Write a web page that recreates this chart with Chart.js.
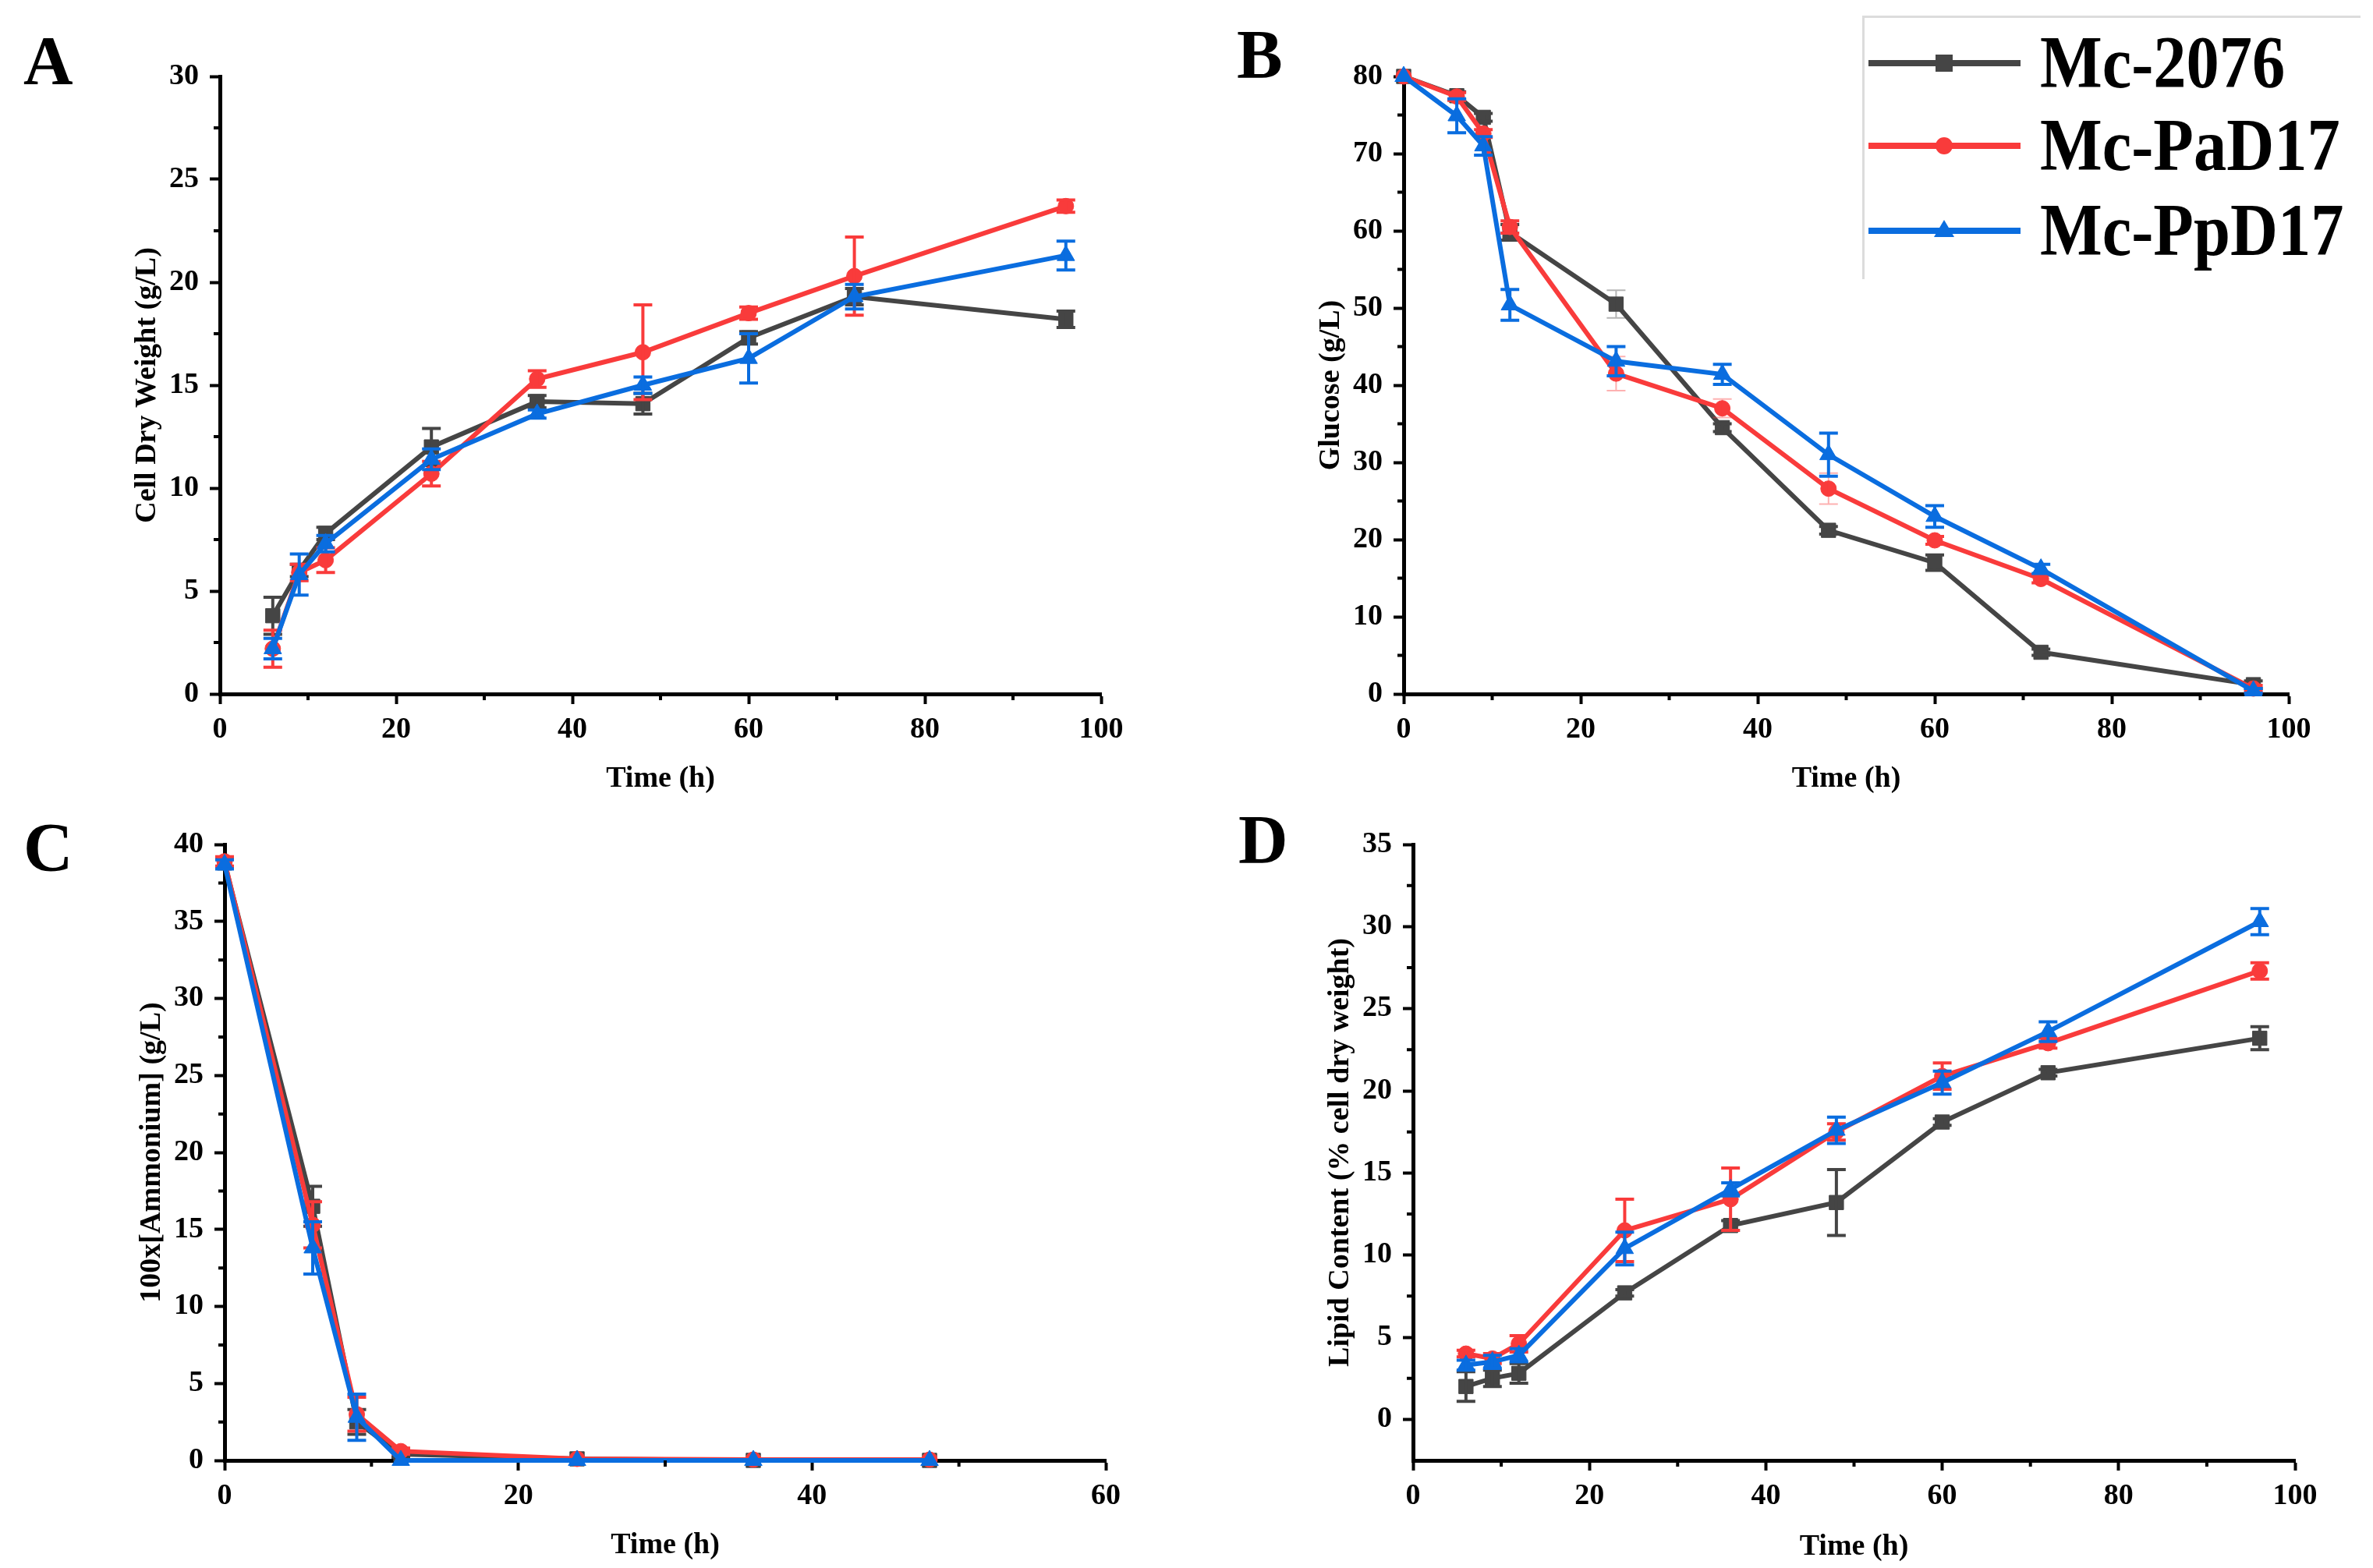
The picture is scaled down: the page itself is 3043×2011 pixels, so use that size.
<!DOCTYPE html>
<html>
<head>
<meta charset="utf-8">
<script src="https://cdn.jsdelivr.net/npm/chart.js@4.4.0/dist/chart.umd.min.js"></script>
<style>
html, body { margin: 0; padding: 0; background: #fff; }
body { width: 3043px; height: 2011px; position: relative; overflow: hidden; font-family: "Liberation Serif", "Times New Roman", serif; }
canvas { position: absolute; }
.letter { position: absolute; font-weight: bold; font-size: 88px; line-height: 1; color: #000; }
#legend { position: absolute; left: 2388px; top: 20px; width: 636px; height: 335px; border-top: 3px solid #dcdcdc; border-left: 3px solid #dcdcdc; }
.legText { position: absolute; left: 2616px; font-weight: bold; font-size: 96px; line-height: 1; color: #000; transform: scaleX(0.88); transform-origin: left center; white-space: nowrap; }
.legLine { position: absolute; left: 2396px; }
</style>
</head>
<body>
<canvas id="chartA" width="1521" height="1030" style="left:0px;top:0px"></canvas>
<canvas id="chartB" width="1522" height="1030" style="left:1521px;top:0px"></canvas>
<canvas id="chartC" width="1521" height="981" style="left:0px;top:1030px"></canvas>
<canvas id="chartD" width="1522" height="981" style="left:1521px;top:1030px"></canvas>

<div class="letter" style="left:30px;top:34px">A</div>
<div class="letter" style="left:1586px;top:26px">B</div>
<div class="letter" style="left:30px;top:1043px">C</div>
<div class="letter" style="left:1588px;top:1033px">D</div>

<div id="legend"></div>
<svg class="legLine" style="top:61px" width="200" height="40"><line x1="0" y1="20" x2="195" y2="20" stroke="#454545" stroke-width="8"/><rect x="86" y="9" width="22" height="22" fill="#454545"/></svg>
<svg class="legLine" style="top:167px" width="200" height="40"><line x1="0" y1="20" x2="195" y2="20" stroke="#f93b3b" stroke-width="8"/><circle cx="97" cy="20" r="11" fill="#f93b3b"/></svg>
<svg class="legLine" style="top:276px" width="200" height="40"><line x1="0" y1="20" x2="195" y2="20" stroke="#0a6ddf" stroke-width="8"/><polygon points="97,6 110,28 84,28" fill="#0a6ddf"/></svg>
<div class="legText" style="top:32px">Mc-2076</div>
<div class="legText" style="top:138px">Mc-PaD17</div>
<div class="legText" style="top:247px">Mc-PpD17</div>

<script>
// Время отбора проб, ч
const timeA = [6, 9, 12, 24, 36, 48, 60, 72, 96];
const timeB = [0, 6, 9, 12, 24, 36, 48, 60, 72, 96];
const timeC = [0, 6, 9, 12, 24, 36, 48];
const timeD = [6, 9, 12, 24, 36, 48, 60, 72, 96];

const seriesNames = ['Mc-2076', 'Mc-PaD17', 'Mc-PpD17'];
const seriesColors = ['#454545', '#f93b3b', '#0a6ddf'];
const seriesMarkers = ['rect', 'circle', 'triangle'];

// A: Cell Dry Weight
const cdw2076 = [3.8, 6.0, 7.8, 12.0, 14.2, 14.1, 17.3, 19.3, 18.2];
const cdw2076Err = [0.9, 0.3, 0.3, 0.9, 0.3, 0.5, 0.3, 0.4, 0.4];
const cdwPaD17 = [2.2, 5.9, 6.5, 10.7, 15.3, 16.6, 18.5, 20.3, 23.7];
const cdwPaD17Err = [0.9, 0.4, 0.6, 0.6, 0.4, 2.3, 0.3, 1.9, 0.3];
const cdwPpD17 = [2.2, 5.8, 7.3, 11.4, 13.6, 15.0, 16.3, 19.3, 21.3];
const cdwPpD17Err = [0.5, 1.0, 0.4, 0.5, 0.2, 0.4, 1.2, 0.6, 0.7];

// B: Glucose
const glc2076 = [80, 77.5, 74.7, 59.8, 50.5, 34.5, 21.2, 17.0, 5.4, 1.2];
const glc2076Err = [0, 0.5, 0.5, 1.0, 1.8, 0.5, 0.5, 1.0, 0.4, 0.5];
const glcPaD17 = [80, 77.4, 72.6, 60.5, 41.5, 37.0, 26.6, 19.9, 14.9, 0.7];
const glcPaD17Err = [0, 0.5, 0.5, 0.8, 2.2, 1.2, 2.0, 0.5, 0.5, 0.4];
const glcPpD17 = [80, 74.9, 71.0, 50.4, 43.1, 41.4, 31.0, 23.0, 16.2, 0.4];
const glcPpD17Err = [0, 2.2, 1.2, 2.0, 1.9, 1.3, 2.8, 1.4, 0.6, 0.3];

// C: 100x[Ammonium]
const amm2076 = [38.8, 16.5, 2.5, 0.4, 0.1, 0, 0];
const amm2076Err = [0.3, 1.3, 0.8, 0.2, 0, 0, 0];
const ammPaD17 = [38.9, 15.3, 3.0, 0.6, 0.1, 0.05, 0.05];
const ammPaD17Err = [0.3, 1.5, 1.1, 0.2, 0, 0, 0];
const ammPpD17 = [38.7, 13.8, 2.8, 0, 0, 0, 0];
const ammPpD17Err = [0.3, 1.7, 1.5, 0, 0, 0, 0];

// D: Lipid Content
const lip2076 = [2.0, 2.5, 2.8, 7.7, 11.8, 13.2, 18.1, 21.1, 23.2];
const lip2076Err = [0.9, 0.5, 0.6, 0.2, 0.3, 2.0, 0.2, 0.2, 0.7];
const lipPaD17 = [4.0, 3.7, 4.6, 11.5, 13.4, 17.5, 20.9, 22.9, 27.3];
const lipPaD17Err = [0.2, 0.3, 0.5, 1.9, 1.9, 0.5, 0.8, 0.3, 0.5];
const lipPpD17 = [3.3, 3.5, 3.9, 10.4, 14.0, 17.6, 20.5, 23.6, 30.3];
const lipPpD17Err = [0.3, 0.4, 0.4, 1.0, 0.4, 0.8, 0.7, 0.6, 0.8];

// Подписи делений
const xTicks100 = [0, 20, 40, 60, 80, 100];
const xTicks60 = [0, 20, 40, 60];
const yTicksA = [0, 5, 10, 15, 20, 25, 30];
const yTicksB = [0, 10, 20, 30, 40, 50, 60, 70, 80];
const yTicksC = [0, 5, 10, 15, 20, 25, 30, 35, 40];
const yTicksD = [0, 5, 10, 15, 20, 25, 30, 35];

const tickFont = { family: 'Liberation Serif', weight: 'bold', size: 38 };

// Планки погрешностей рисуем сразу после своей линии
const errorBars = {
    id: 'errorBars',
    afterDatasetDraw(chart, args) {
        const ds = chart.data.datasets[args.index];
        if (!ds.errors) return;
        const yScale = chart.scales.y;
        const ctx = chart.ctx;
        args.meta.data.forEach((pt, i) => {
            const e = ds.errors[i];
            if (!e) return;
            const faint = ds.faint.includes(i);
            const v = ds.data[i].y;
            const top = yScale.getPixelForValue(v + e);
            const bot = yScale.getPixelForValue(v - e);
            ctx.save();
            ctx.strokeStyle = ds.borderColor;
            ctx.globalAlpha = faint ? 0.4 : 1;
            ctx.lineWidth = faint ? 2 : 4;
            ctx.beginPath();
            ctx.moveTo(pt.x, top);
            ctx.lineTo(pt.x, bot);
            ctx.moveTo(pt.x - 12, top);
            ctx.lineTo(pt.x + 12, top);
            ctx.moveTo(pt.x - 12, bot);
            ctx.lineTo(pt.x + 12, bot);
            ctx.stroke();
            ctx.restore();
        });
    }
};

// Промежуточные (короткие) деления
const minorTicks = {
    id: 'minorTicks',
    afterDraw(chart, args, opts) {
        const ctx = chart.ctx;
        const xs = chart.scales.x;
        const ys = chart.scales.y;
        const area = chart.chartArea;
        ctx.save();
        ctx.strokeStyle = '#000';
        ctx.lineWidth = 4;
        ctx.beginPath();
        for (let v = opts.x; v < xs.max; v += opts.x * 2) {
            const px = xs.getPixelForValue(v);
            ctx.moveTo(px, area.bottom);
            ctx.lineTo(px, area.bottom + 8);
        }
        for (let v = opts.y; v < ys.max; v += opts.y * 2) {
            const py = ys.getPixelForValue(v);
            ctx.moveTo(area.left, py);
            ctx.lineTo(area.left - 8, py);
        }
        ctx.stroke();
        ctx.restore();
    }
};

function makeDatasets(times, values, errors, faint) {
    return values.map((vals, k) => ({
        label: seriesNames[k],
        data: times.map((t, i) => ({ x: t, y: vals[i] })),
        errors: errors[k],
        faint: faint[k],
        borderColor: seriesColors[k],
        backgroundColor: seriesColors[k],
        borderWidth: 6,
        pointStyle: seriesMarkers[k],
        pointRadius: k === 1 ? 10 : 13,
        pointBorderWidth: 1,
        tension: 0,
        clip: false,
        order: 2 - k
    }));
}

function makeAxis(min, max, ticks, title, fitSize, titlePad, horizontal) {
    return {
        type: 'linear',
        min: min,
        max: max,
        afterBuildTicks: scale => { scale.ticks = ticks.map(v => ({ value: v })); },
        afterFit: scale => {
            if (horizontal) scale.height = fitSize; else scale.width = fitSize;
        },
        border: { display: true, width: 5, color: '#000' },
        grid: { drawOnChartArea: false, drawTicks: true, tickLength: 13, tickWidth: 4, tickColor: '#000' },
        ticks: { color: '#000', font: tickFont, padding: horizontal ? 10 : 14, maxRotation: 0, autoSkip: false },
        title: {
            display: true,
            text: title,
            color: '#000',
            font: tickFont,
            padding: horizontal ? { top: 0, bottom: titlePad } : { top: titlePad, bottom: 0 }
        }
    };
}

function makePanel(canvasId, p) {
    const ctx = document.getElementById(canvasId).getContext('2d');
    return new Chart(ctx, {
        type: 'line',
        data: { datasets: makeDatasets(p.times, p.values, p.errors, p.faint || [[], [], []]) },
        options: {
            responsive: false,
            animation: false,
            devicePixelRatio: 1,
            layout: { padding: { left: 0, top: p.area.t, right: p.w - p.area.r, bottom: 0 } },
            scales: {
                x: makeAxis(0, p.xMax, p.xTicks, 'Time (h)', p.h - p.area.b, p.xTitleY, true),
                y: makeAxis(p.yMin, p.yMax, p.yTicks, p.yTitle, p.area.l, p.area.l - 93 - 22.8, false)
            },
            plugins: {
                legend: { display: false },
                tooltip: { enabled: false },
                minorTicks: { x: 10, y: p.yMinor }
            }
        },
        plugins: [errorBars, minorTicks]
    });
}

makePanel('chartA', {
    w: 1521, h: 1030, area: { l: 282, r: 1412, t: 98, b: 890 },
    times: timeA,
    values: [cdw2076, cdwPaD17, cdwPpD17],
    errors: [cdw2076Err, cdwPaD17Err, cdwPpD17Err],
    xMax: 100, xTicks: xTicks100, xTitleY: 8,
    yMin: 0, yMax: 30, yTicks: yTicksA, yMinor: 2.5,
    yTitle: 'Cell Dry Weight (g/L)'
});

makePanel('chartB', {
    w: 1522, h: 1030, area: { l: 279, r: 1414, t: 98, b: 890 },
    times: timeB,
    values: [glc2076, glcPaD17, glcPpD17],
    errors: [glc2076Err, glcPaD17Err, glcPpD17Err],
    faint: [[4], [4, 5, 6], []],
    xMax: 100, xTicks: xTicks100, xTitleY: 8,
    yMin: 0, yMax: 80, yTicks: yTicksB, yMinor: 5,
    yTitle: 'Glucose (g/L)'
});

makePanel('chartC', {
    w: 1521, h: 981, area: { l: 288, r: 1418, t: 53, b: 843 },
    times: timeC,
    values: [amm2076, ammPaD17, ammPpD17],
    errors: [amm2076Err, ammPaD17Err, ammPpD17Err],
    xMax: 60, xTicks: xTicks60, xTitleY: 6,
    yMin: 0, yMax: 40, yTicks: yTicksC, yMinor: 2.5,
    yTitle: '100x[Ammonium] (g/L)'
});

makePanel('chartD', {
    w: 1522, h: 981, area: { l: 291, r: 1422, t: 53, b: 843 },
    times: timeD,
    values: [lip2076, lipPaD17, lipPpD17],
    errors: [lip2076Err, lipPaD17Err, lipPpD17Err],
    xMax: 100, xTicks: xTicks100, xTitleY: 4,
    yMin: -2.5, yMax: 35, yTicks: yTicksD, yMinor: 2.5,
    yTitle: 'Lipid Content (% cell dry weight)'
});
</script>
</body>
</html>
